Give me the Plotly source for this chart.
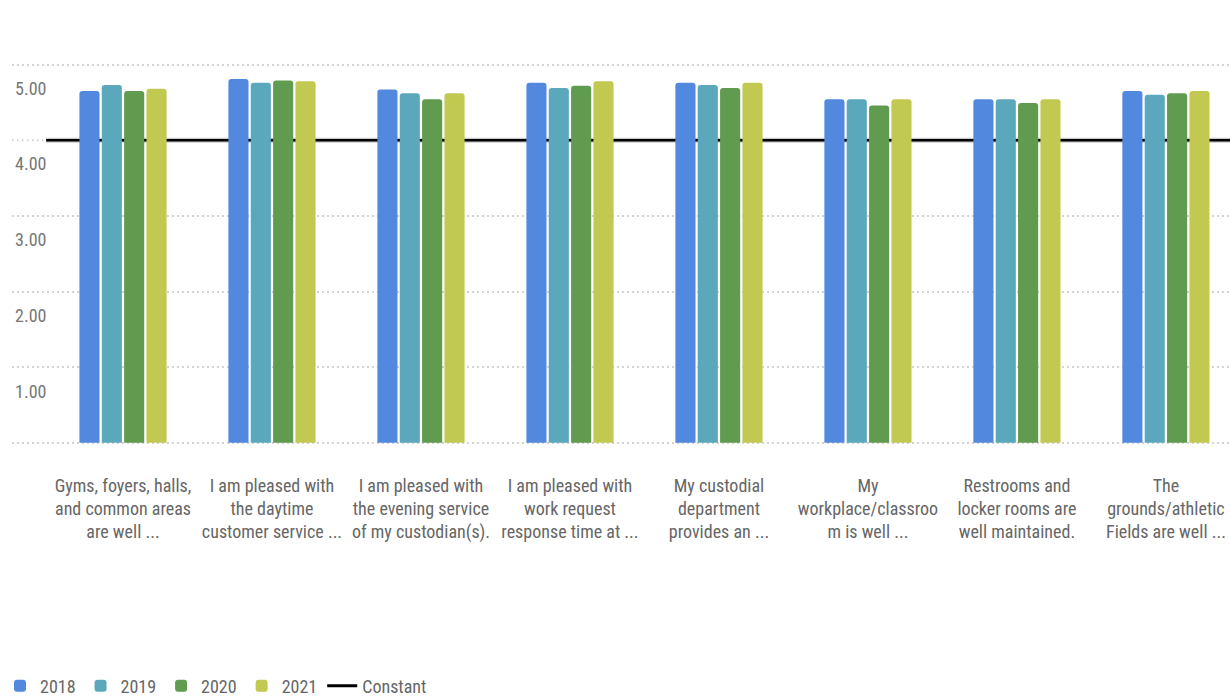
import plotly.graph_objects as go

categories = [
    "Gyms, foyers, halls,<br>and common areas<br>are well ...",
    "I am pleased with<br>the daytime<br>customer service ...",
    "I am pleased with<br>the evening service<br>of my custodian(s).",
    "I am pleased with<br>work request<br>response time at ...",
    "My custodial<br>department<br>provides an ...",
    "My<br>workplace/classroo<br>m is well ...",
    "Restrooms and<br>locker rooms are<br>well maintained.",
    "The<br>grounds/athletic<br>Fields are well ...",
]
years = ["2018", "2019", "2020", "2021"]
values_2018 = [4.65, 4.81, 4.67, 4.76, 4.76, 4.54, 4.54, 4.65]
values_2019 = [4.73, 4.76, 4.62, 4.69, 4.73, 4.54, 4.54, 4.60]
values_2020 = [4.65, 4.79, 4.54, 4.72, 4.69, 4.46, 4.49, 4.62]
values_2021 = [4.68, 4.78, 4.62, 4.78, 4.76, 4.54, 4.54, 4.65]
constant = 4.0
y_ticks = [0, 1, 2, 3, 4, 5]
y_tick_text = ["", "1.00", "2.00", "3.00", "4.00", "5.00"]
grid_ticks = [0, 1, 2, 3, 5]  # the 4.00 level is covered by the constant line

colors = ["#5288de", "#5ba8bc", "#609b50", "#c2c951"]
series = [values_2018, values_2019, values_2020, values_2021]

FONT = "Roboto Condensed, DejaVu Sans Condensed, Roboto, sans-serif"
GRID = dict(color="#d2d2d2", width=2, dash="1.5px,3.5px")
Y_RANGE = [-0.015, 5.02]

fig = go.Figure()
for name, vals, col in zip(years, series, colors):
    fig.add_trace(go.Bar(
        x=list(range(len(categories))), y=vals, name=name,
        marker=dict(color=col, cornerradius=3, line=dict(width=0)),
    ))

# legend entry for the reference line (also anchors the grid axis)
fig.add_trace(go.Scatter(
    x=[None], y=[None], mode="lines", name="Constant", yaxis="y2",
    line=dict(color="black", width=3),
))

# short dotted grid stub left of the constant line
fig.add_shape(type="line", xref="paper", yref="y", x0=0, x1=0.028,
              y0=constant, y1=constant, layer="below", line=GRID)
# constant reference line beneath the bars
fig.add_shape(type="line", xref="paper", yref="y", x0=0.028, x1=1,
              y0=constant, y1=constant, layer="below",
              line=dict(color="#c9c9c9", width=5))
fig.add_shape(type="line", xref="paper", yref="y", x0=0.028, x1=1,
              y0=constant, y1=constant, layer="below",
              line=dict(color="black", width=2.5))

fig.update_layout(
    width=1230, height=700,
    margin=dict(l=12, r=0, t=63, b=256, autoexpand=False),
    paper_bgcolor="white", plot_bgcolor="white",
    barmode="group", bargap=0.4, bargroupgap=0.1,
    font=dict(family=FONT, size=18, color="#666"),
    showlegend=True,
    legend=dict(orientation="h", xref="container", x=0.0, xanchor="left",
                yref="container", y=0.02, yanchor="middle",
                font=dict(size=18, color="#666"),
                itemwidth=30, traceorder="normal"),
    yaxis2=dict(overlaying="y", range=Y_RANGE, tickmode="array",
                tickvals=grid_ticks, showticklabels=False,
                showgrid=True, gridcolor=GRID["color"], griddash=GRID["dash"],
                gridwidth=GRID["width"], zeroline=False, showline=False),
)
fig.update_xaxes(
    tickmode="array", tickvals=list(range(len(categories))), ticktext=categories,
    range=[-0.745, 7.43], showgrid=False, zeroline=False, showline=False,
    ticks="outside", ticklen=25, tickcolor="rgba(0,0,0,0)", tickangle=0,
    tickfont=dict(size=18, color="#666"),
)
fig.layout.yaxis.update(
    range=Y_RANGE, tickmode="array", tickvals=y_ticks, ticktext=y_tick_text,
    showgrid=False, zeroline=False, showline=False,
    ticklabelposition="inside", ticklabelshift=24,
    tickfont=dict(size=18, color="#777"),
)

fig.write_html("out.html")
